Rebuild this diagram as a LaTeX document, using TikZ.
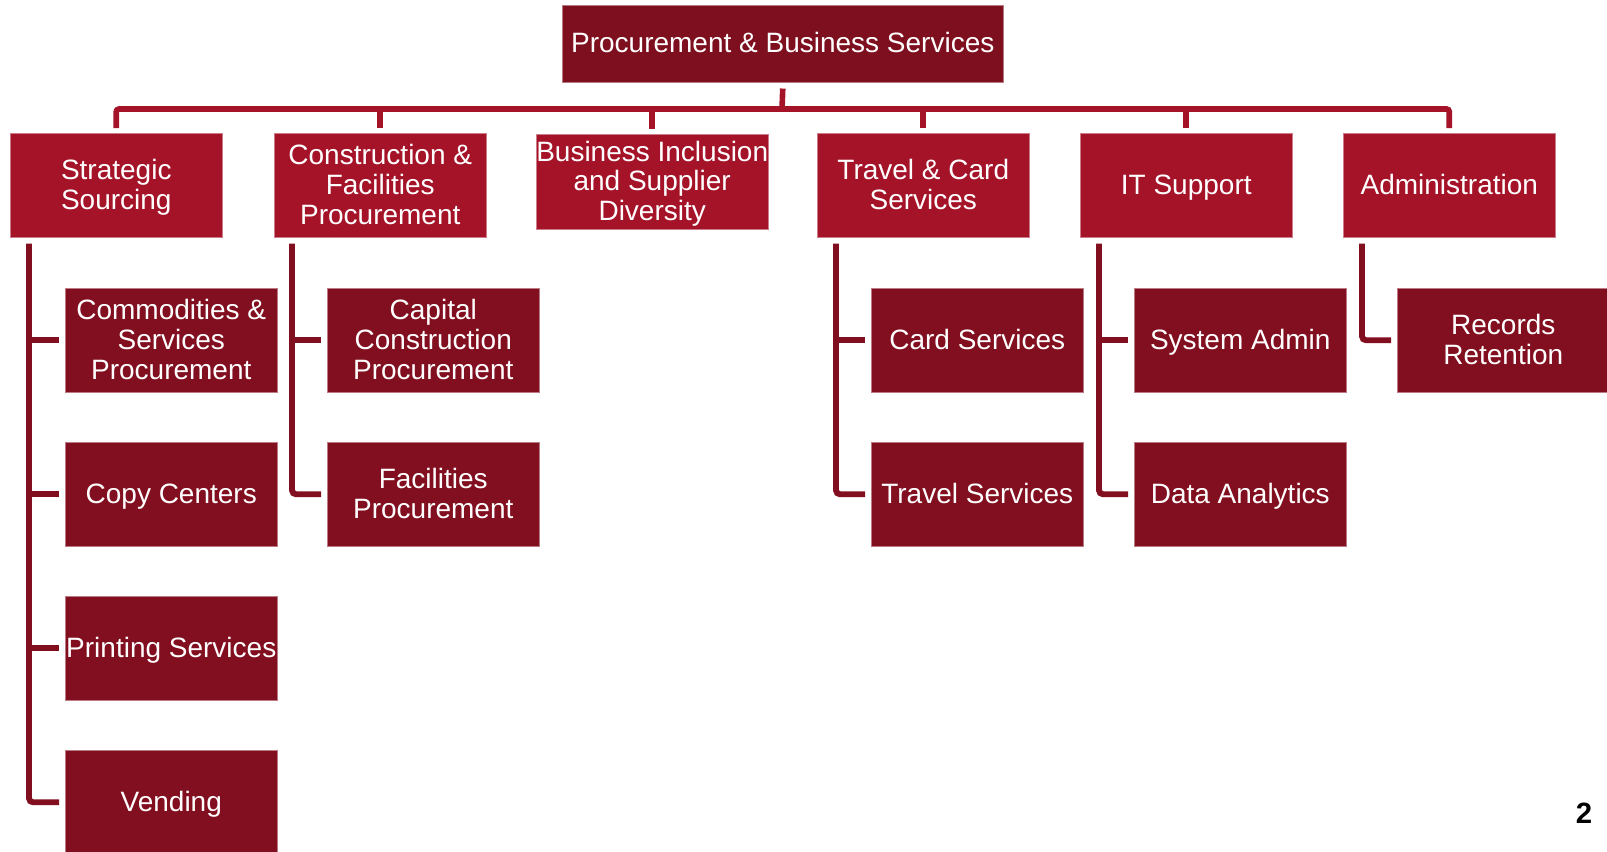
\documentclass[tikz,border=0pt]{standalone}
\usepackage{fontspec}
\setmainfont{Liberation Sans}
\usetikzlibrary{calc}
\definecolor{darkred}{HTML}{7E0F1E}
\definecolor{leafred}{HTML}{820F1F}
\definecolor{brightred}{HTML}{A51328}
\newcommand\topstrut{\rule{0pt}{0.86em}}
\newcommand\botstrut{\vphantom{g}}
\begin{document}
\begin{tikzpicture}[x=0.75pt,y=-0.75pt,
  box/.style={anchor=north west, inner sep=0pt, align=center, text=white,
    font=\fontsize{21}{22.2}\selectfont, line width=0.4pt},
  topbox/.style={box, fill=darkred, draw=darkred!55!white, minimum width=330.75pt, minimum height=57.75pt},
  midbox/.style={box, fill=brightred, draw=brightred!55!white, minimum width=159pt, minimum height=78pt},
  leafbox/.style={box, fill=leafred, draw=leafred!55!white, minimum width=159pt, minimum height=78pt},
  busline/.style={draw=brightred, line width=4.2pt},
  spineline/.style={draw=leafred, line width=4.4pt}]
\useasboundingbox (0,0) rectangle (1607,851);

% top
\node[topbox] (top) at (562,5) {\topstrut Procurement \& Business Services\botstrut};

% level 1
\node[midbox] (ss) at (10,133) {\topstrut Strategic\\Sourcing\botstrut};
\node[midbox] (cf) at (274,133) {\topstrut Construction \&\\Facilities\\Procurement\botstrut};
\node[midbox, minimum width=172.5pt, minimum height=71.25pt] (bi) at (536,134) {\topstrut Business Inclusion\\and Supplier\\Diversity\botstrut};
\node[midbox] (tc) at (817,133) {\topstrut Travel \& Card\\Services\botstrut};
\node[midbox] (it) at (1080,133) {\topstrut IT Support\botstrut};
\node[midbox] (adm) at (1343,133) {\topstrut Administration\botstrut};

% level 2
\node[leafbox] (csp) at (65,288) {\topstrut Commodities \&\\Services\\Procurement\botstrut};
\node[leafbox] (cc) at (65,442) {\topstrut Copy Centers\botstrut};
\node[leafbox] (ps) at (65,596) {\topstrut Printing Services\botstrut};
\node[leafbox] (ven) at (65,750) {\topstrut Vending\botstrut};

\node[leafbox] (ccp) at (327,288) {\topstrut Capital\\Construction\\Procurement\botstrut};
\node[leafbox] (fp) at (327,442) {\topstrut Facilities\\Procurement\botstrut};

\node[leafbox] (cs) at (871,288) {\topstrut Card Services\botstrut};
\node[leafbox] (ts) at (871,442) {\topstrut Travel Services\botstrut};

\node[leafbox] (sa) at (1134,288) {\topstrut System Admin\botstrut};
\node[leafbox] (da) at (1134,442) {\topstrut Data Analytics\botstrut};

\node[leafbox] (rr) at (1397,288) {\topstrut Records\\Retention\botstrut};

% bus
\coordinate (bus) at (782,109);
\draw[busline, rounded corners=2] ($(ss.north)+(0,-5)$) -- (ss.north |- bus) -- (adm.north |- bus) -- ($(adm.north)+(0,-5)$);
\draw[busline] ($(top.south)+(0,6)$) -- (bus);
\foreach \n in {cf,bi,tc,it}
  \draw[busline] (\n.north |- bus) -- ($(\n.north)+(0,-5)$);

% spines
\coordinate (s1) at ($(ss.south west)+(19,6)$);
\coordinate (s2) at ($(cf.south west)+(18,6)$);
\coordinate (s3) at ($(tc.south west)+(19,6)$);
\coordinate (s4) at ($(it.south west)+(19,6)$);
\coordinate (s5) at ($(adm.south west)+(19,6)$);

\draw[spineline, rounded corners=3] (s1) |- ($(ven.west)+(-6,0)$);
\foreach \n in {csp,cc,ps}
  \draw[spineline] (s1 |- \n.west) -- ($(\n.west)+(-6,0)$);

\draw[spineline, rounded corners=3] (s2) |- ($(fp.west)+(-6,0)$);
\draw[spineline] (s2 |- ccp.west) -- ($(ccp.west)+(-6,0)$);

\draw[spineline, rounded corners=3] (s3) |- ($(ts.west)+(-6,0)$);
\draw[spineline] (s3 |- cs.west) -- ($(cs.west)+(-6,0)$);

\draw[spineline, rounded corners=3] (s4) |- ($(da.west)+(-6,0)$);
\draw[spineline] (s4 |- sa.west) -- ($(sa.west)+(-6,0)$);

\draw[spineline, rounded corners=3] (s5) |- ($(rr.west)+(-6,0)$);

% page number
\node[font=\fontsize{22}{24}\selectfont\bfseries, text=black, inner sep=0pt] (pg) at (1584,813) {2};
\end{tikzpicture}
\end{document}
